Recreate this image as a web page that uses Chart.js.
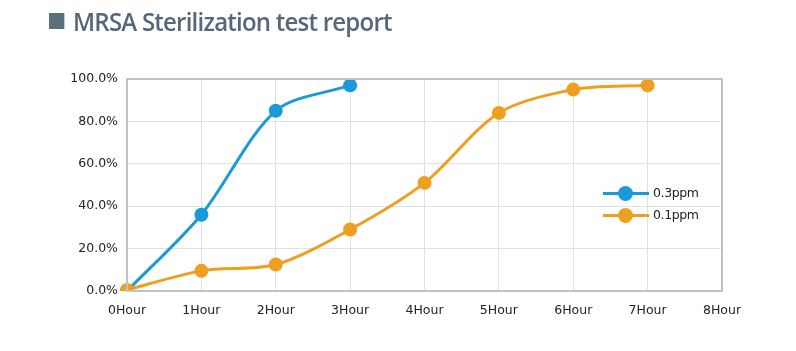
<!DOCTYPE html>
<html>
<head>
<meta charset="utf-8">
<script src="https://cdn.jsdelivr.net/npm/chart.js@4/dist/chart.umd.min.js"></script>
<style>
  html, body { margin: 0; padding: 0; background: #fff; }
  #wrap { position: relative; width: 796px; height: 351px; overflow: hidden; }
  #title { position: absolute; left: 49px; top: 4px; font-family: "Open Sans", "Noto Sans", sans-serif; font-size: 25px; font-weight: 600; color: #55687a; letter-spacing: -0.8px; white-space: nowrap; transform: scaleX(0.96); transform-origin: left center; }
  #title .sq { display: inline-block; width: 16px; height: 16px; background: #5b6f7c; margin-right: 9px; vertical-align: 2px; }
  #legend { position: absolute; left: 603px; top: 183px; font-family: "DejaVu Sans", sans-serif; font-size: 12.5px; color: #222; }
  .item { position: relative; height: 22px; }
  .item .ln { position: absolute; left: 0; top: 9px; width: 46px; height: 3px; }
  .item .dt { position: absolute; left: 15px; top: 3px; width: 15px; height: 15px; border-radius: 50%; }
  .item .tx { position: absolute; left: 50px; top: 2px; letter-spacing: -0.4px; }
  canvas { position: absolute; left: 0; top: 0; }
</style>
</head>
<body>
<div id="wrap">
  <canvas id="c" width="796" height="351"></canvas>
  <div id="title"><span class="sq"></span>MRSA Sterilization test report</div>
  <div id="legend"></div>
</div>
<script>
const categories = ['0Hour','1Hour','2Hour','3Hour','4Hour','5Hour','6Hour','7Hour','8Hour'];
const series03 = [0, 36, 85, 97, null, null, null, null, null];
const series01 = [0.5, 9.5, 12.5, 29, 51, 84, 95, 97, null];
const yTicks = [0, 20, 40, 60, 80, 100];
const seriesNames = ['0.3ppm', '0.1ppm'];
const blue = '#1a9bd7';
const orange = '#ee9f1f';

const legend = document.getElementById('legend');
[[seriesNames[0], blue], [seriesNames[1], orange]].forEach(([n, c]) => {
  const d = document.createElement('div');
  d.className = 'item';
  d.innerHTML = '<span class="ln" style="background:' + c + '"></span><span class="dt" style="background:' + c + '"></span><span class="tx">' + n + '</span>';
  legend.appendChild(d);
});

new Chart(document.getElementById('c'), {
  type: 'line',
  data: {
    labels: categories,
    datasets: [
      {
        label: seriesNames[1], data: series01, order: 0,
        borderColor: orange, backgroundColor: orange, pointBackgroundColor: orange,
        borderWidth: 3, pointRadius: 7, pointBorderWidth: 0, pointHoverRadius: 7,
        tension: 0.3, spanGaps: false
      },
      {
        label: seriesNames[0], data: series03, order: 1,
        borderColor: blue, backgroundColor: blue, pointBackgroundColor: blue,
        borderWidth: 3, pointRadius: 7, pointBorderWidth: 0, pointHoverRadius: 7,
        tension: 0.3, spanGaps: false
      }
    ]
  },
  options: {
    responsive: false,
    animation: false,
    devicePixelRatio: 1,
    layout: { padding: { top: 79, right: 74, left: 0, bottom: 0 } },
    plugins: { legend: { display: false }, tooltip: { enabled: false }, title: { display: false } },
    scales: {
      x: {
        offset: false,
        grid: { color: '#dde2e7', lineWidth: 1, drawTicks: false },
        border: { color: '#b9c5cd', width: 2 },
        ticks: { color: '#222', font: { family: 'DejaVu Sans', size: 12.5 }, padding: 12, maxRotation: 0, autoSkip: false },
        afterFit: (s) => { s.height = 60; }
      },
      y: {
        min: 0, max: 100,
        afterBuildTicks: (s) => { s.ticks = yTicks.map(v => ({ value: v })); },
        grid: { color: '#dde2e7', lineWidth: 1, drawTicks: false },
        border: { color: '#b9c5cd', width: 2 },
        ticks: { color: '#222', font: { family: 'DejaVu Sans', size: 12.5 }, padding: 9, callback: v => v.toFixed(1) + '%' },
        afterFit: (s) => { s.width = 127; }
      }
    }
  },
  plugins: [{
    id: 'frame',
    afterDraw(chart) {
      const { ctx, chartArea: a } = chart;
      ctx.save();
      ctx.strokeStyle = '#b9c5cd';
      ctx.lineWidth = 2;
      ctx.strokeRect(a.left, a.top, a.right - a.left, a.bottom - a.top);
      ctx.restore();
    }
  }]
});
</script>
</body>
</html>
